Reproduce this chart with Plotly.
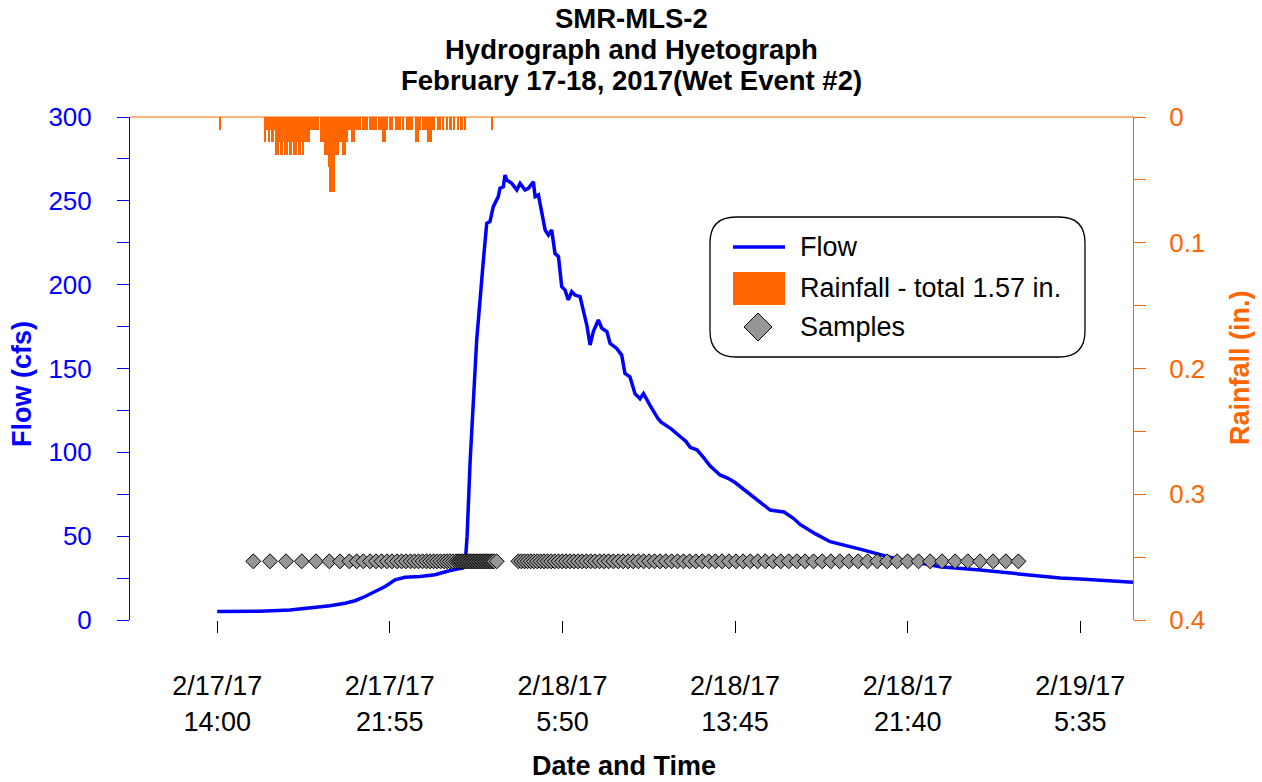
import plotly.graph_objects as go
import pandas as pd

# ---------------- data ----------------
start_time = "2017-02-17 10:00"
end_time = "2017-02-19 08:00"

# Flow: hours after 2017-02-17 10:00 and flow (cfs)
flow_hours = [4.00, 5.96, 7.34, 8.26, 9.17, 9.86, 10.32, 10.78, 11.24, 11.70, 12.16, 12.61,
              13.30, 13.99, 14.68, 15.27, 15.37, 15.46, 15.60, 15.90, 16.21, 16.36, 16.51,
              16.66, 16.89, 16.97, 17.12, 17.20, 17.28, 17.51, 17.74, 17.89, 18.12, 18.27,
              18.50, 18.58, 18.73, 18.88, 19.04, 19.19, 19.34, 19.49, 19.65, 19.80, 19.95,
              20.10, 20.26, 20.41, 20.64, 20.95, 21.10, 21.25, 21.48, 21.64, 21.87, 22.02,
              22.32, 22.55, 22.70, 22.93, 23.16, 23.39, 23.55, 23.85, 24.22, 24.36, 24.82,
              25.27, 25.50, 25.69, 26.00, 26.30, 26.60, 27.06, 27.43, 27.75, 28.10, 28.44,
              28.90, 29.36, 29.66, 29.99, 30.44, 30.73, 31.42, 32.11, 33.48, 34.40, 35.32,
              36.24, 37.15, 38.99, 39.90, 40.82, 41.74, 42.66, 43.57, 44.49, 45.41, 46.00]
flow_cfs = [5.0, 5.2, 6.0, 7.0, 8.5, 10.0, 11.5, 14.0, 17.0, 20.0, 24.0, 25.5,
            26.0, 27.0, 29.5, 31.0, 33.0, 50.0, 95.0, 167.0, 215.0, 236.6, 237.6,
            246.5, 252.5, 257.5, 258.4, 265.4, 262.4, 260.4, 256.5, 260.4, 256.5, 257.5,
            261.4, 252.5, 253.5, 244.5, 232.6, 229.6, 232.6, 218.7, 216.7, 198.8, 196.8,
            190.9, 195.8, 193.8, 192.9, 175.9, 164.0, 172.0, 178.9, 174.0, 172.0, 165.0,
            162.0, 158.0, 147.0, 145.0, 135.0, 132.0, 135.0, 128.0, 120.0, 118.0, 114.0,
            109.0, 106.5, 103.0, 101.5, 97.0, 92.0, 86.5, 84.5, 82.0, 78.5, 74.5,
            70.0, 65.6, 65.0, 64.4, 60.5, 57.0, 51.5, 46.7, 42.3, 38.8, 35.8,
            34.0, 31.8, 29.8, 28.6, 27.4, 26.2, 25.0, 24.5, 23.9, 23.3, 22.5]

# Rainfall: 5-minute totals (in.) starting 2017-02-17 16:10
rain_start = "2017-02-17 16:10"
rain_in = [0.02, 0.01, 0.02, 0.01, 0.02, 0.01,
           0.03, 0.03, 0.02, 0.03, 0.02, 0.03, 0.03, 0.02, 0.03, 0.02, 0.03, 0.03, 0.02, 0.03, 0.02, 0.03,
           0.02, 0.02, 0.02,
           0.01, 0.01, 0.01, 0.01, 0.01,
           0.00,
           0.02, 0.02, 0.03, 0.03, 0.04, 0.06, 0.06, 0.06, 0.03, 0.03, 0.02, 0.02, 0.03, 0.03, 0.02,
           0.01, 0.01, 0.02, 0.02,
           0.01, 0.01, 0.01, 0.00, 0.01, 0.01, 0.01, 0.00, 0.01, 0.01, 0.01, 0.01, 0.00, 0.01, 0.01,
           0.02, 0.02, 0.01, 0.00, 0.01, 0.01, 0.00, 0.01, 0.01, 0.01, 0.00, 0.01, 0.00, 0.01, 0.01,
           0.01, 0.01, 0.00, 0.02, 0.02, 0.01, 0.00, 0.01, 0.01, 0.01, 0.02, 0.02, 0.01, 0.01, 0.00,
           0.01, 0.01, 0.00, 0.01, 0.00, 0.01, 0.00, 0.01, 0.00, 0.01, 0.00, 0.01, 0.00, 0.01, 0.00,
           0.01]
rain_extra_times = ["2017-02-17 14:05", "2017-02-18 02:35"]
rain_extra_in = [0.01, 0.01]
rain_total_label = "Rainfall - total 1.57 in."

# Samples: hours after 2017-02-17 10:00 (plotted at 35 cfs)
sample_hours = [5.655, 6.421, 7.155, 7.875, 8.531, 9.141, 9.632, 10.059, 10.398, 10.701,
                11.008, 11.283, 11.536, 11.788, 12.017, 12.246, 12.453, 12.659, 12.866, 13.049,
                13.233, 13.416, 13.600, 13.760, 13.921, 14.081, 14.242, 14.402, 14.540, 14.677,
                14.815, 14.953, 15.044, 15.113, 15.182, 15.251, 15.320, 15.388, 15.457, 15.526,
                15.595, 15.664, 15.732, 15.801, 15.870, 15.939, 16.008, 16.076, 16.145, 16.214,
                16.283, 16.352, 16.420, 16.489, 16.558, 16.627, 16.695, 16.819,
                17.810, 17.948, 18.090, 18.232, 18.379, 18.526, 18.677, 18.833, 18.989, 19.150,
                19.315, 19.480, 19.649, 19.824, 19.998, 20.177, 20.360, 20.548, 20.736, 20.929,
                21.126, 21.328, 21.535, 21.741, 21.952, 22.172, 22.392, 22.617, 22.846, 23.076,
                23.314, 23.557, 23.805, 24.053, 24.310, 24.571, 24.837, 25.108, 25.383, 25.667,
                25.952, 26.245, 26.539, 26.846, 27.153, 27.470, 27.791, 28.117, 28.447, 28.786,
                29.135, 29.483, 29.846, 30.208, 30.584, 30.960, 31.350, 31.745, 32.143, 32.552,
                32.969, 33.396, 33.827, 34.272, 34.721, 35.180, 35.662, 36.166, 36.694, 37.244,
                37.840, 38.423, 38.987, 39.583, 40.166, 40.744]
sample_level_cfs = 35

tick_times = ["2017-02-17 14:00", "2017-02-17 21:55", "2017-02-18 05:50",
              "2017-02-18 13:45", "2017-02-18 21:40", "2017-02-19 05:35"]
tick_labels = ["2/17/17<br>14:00", "2/17/17<br>21:55", "2/18/17<br>5:50",
               "2/18/17<br>13:45", "2/18/17<br>21:40", "2/19/17<br>5:35"]

# ---------------- build ----------------
BLUE = "#0000FF"
ORANGE = "#FF6600"
FONT = "Arial, Liberation Sans, sans-serif"

t0 = pd.Timestamp(start_time)
flow_t = [t0 + pd.Timedelta(hours=h) for h in flow_hours]
sample_t = [t0 + pd.Timedelta(hours=h) for h in sample_hours]
rain_t = list(pd.date_range(rain_start, periods=len(rain_in), freq="5min") + pd.Timedelta(minutes=2.5))
rain_t += [pd.Timestamp(t) + pd.Timedelta(minutes=2.5) for t in rain_extra_times]
rain_v = rain_in + rain_extra_in

fig = go.Figure()
fig.add_trace(go.Bar(x=rain_t, y=rain_v, yaxis="y2", width=5 * 60 * 1000,
                     marker=dict(color=ORANGE, line=dict(width=0)), showlegend=False))
fig.add_trace(go.Scatter(x=flow_t, y=flow_cfs, mode="lines",
                         line=dict(color=BLUE, width=3.5), showlegend=False))
fig.add_trace(go.Scatter(x=sample_t, y=[sample_level_cfs] * len(sample_t), mode="markers",
                         marker=dict(symbol="diamond", size=11.5, color="#969696",
                                     line=dict(color="black", width=1)), showlegend=False))

W, H = 1262, 782
L, R, T, B = 130, 1133, 117, 620


def px(x):
    return (x - L) / (R - L)


def py(y):
    return (B - y) / (B - T)


fig.update_layout(
    width=W, height=H,
    margin=dict(l=L, r=W - R, t=T, b=H - B),
    paper_bgcolor="white", plot_bgcolor="white",
    font=dict(family=FONT, size=26, color="black"),
    bargap=0,
    xaxis=dict(type="date", range=[start_time, end_time], tickvals=tick_times, ticktext=tick_labels,
               ticks="outside", ticklen=12, tickcolor="black", tickwidth=1,
               showline=False, showgrid=False, zeroline=False,
               tickfont=dict(size=27, color="black"), ticklabelstandoff=30),
    yaxis=dict(range=[0, 300], tickvals=[0, 50, 100, 150, 200, 250, 300],
               ticks="outside", ticklen=12, tickcolor=BLUE, tickwidth=1,
               showline=True, linecolor=BLUE, linewidth=1,
               showgrid=False, zeroline=False,
               tickfont=dict(size=26, color=BLUE), ticklabelstandoff=20,
               minor=dict(ticks="outside", ticklen=12, tickcolor=BLUE, tickvals=[25, 75, 125, 175, 225, 275])),
    yaxis2=dict(range=[0.4, 0], overlaying="y", side="right",
                tickvals=[0, 0.1, 0.2, 0.3, 0.4], ticktext=["0", "0.1", "0.2", "0.3", "0.4"],
                ticks="outside", ticklen=12, tickcolor=ORANGE, tickwidth=1,
                showline=True, linecolor=ORANGE, linewidth=1,
                showgrid=False, zeroline=False,
                tickfont=dict(size=26, color=ORANGE), ticklabelstandoff=18,
                minor=dict(ticks="outside", ticklen=12, tickcolor=ORANGE, tickvals=[0.05, 0.15, 0.25, 0.35])),
)

# top border
fig.add_shape(type="line", xref="paper", yref="paper", x0=0, x1=1, y0=1, y1=1,
              line=dict(color=ORANGE, width=1))

# titles
for txt, yy in [("SMR-MLS-2", 18), ("Hydrograph and Hyetograph", 49),
                ("February 17-18, 2017(Wet Event #2)", 81)]:
    fig.add_annotation(text="<b>%s</b>" % txt, xref="paper", yref="paper", x=px(631), y=py(yy),
                       showarrow=False, xanchor="center", yanchor="middle",
                       font=dict(size=27.5, color="black", family=FONT))

fig.add_annotation(text="<b>Date and Time</b>", xref="paper", yref="paper", x=px(624), y=py(766),
                   showarrow=False, xanchor="center", yanchor="middle", font=dict(size=27, color="black"))
fig.add_annotation(text="<b>Flow (cfs)</b>", xref="paper", yref="paper", x=px(22), y=py(384),
                   showarrow=False, textangle=-90, xanchor="center", yanchor="middle",
                   font=dict(size=27, color=BLUE))
fig.add_annotation(text="<b>Rainfall (in.)</b>", xref="paper", yref="paper", x=px(1240), y=py(368),
                   showarrow=False, textangle=-90, xanchor="center", yanchor="middle",
                   font=dict(size=27, color=ORANGE))

# custom legend
bx0, bx1, by0, by1, rr = 710, 1085, 217, 357, 26
path = ("M {a},{b} L {c},{b} Q {d},{b} {d},{e} L {d},{f} Q {d},{g} {c},{g} "
        "L {a},{g} Q {h},{g} {h},{f} L {h},{e} Q {h},{b} {a},{b} Z").format(
    a=px(bx0 + rr), b=py(by0), c=px(bx1 - rr), d=px(bx1), e=py(by0 + rr), f=py(by1 - rr),
    g=py(by1), h=px(bx0))
fig.add_shape(type="path", xref="paper", yref="paper", path=path,
              line=dict(color="black", width=1.3), fillcolor="white", layer="above")
fig.add_shape(type="line", xref="paper", yref="paper", x0=px(733), x1=px(785), y0=py(247), y1=py(247),
              line=dict(color=BLUE, width=3.5), layer="above")
fig.add_shape(type="rect", xref="paper", yref="paper", x0=px(733), x1=px(785), y0=py(272), y1=py(305),
              fillcolor=ORANGE, line=dict(width=0), layer="above")
dpath = "M {},{} L {},{} L {},{} L {},{} Z".format(px(744), py(327), px(758), py(313),
                                                    px(772), py(327), px(758), py(341))
fig.add_shape(type="path", xref="paper", yref="paper", path=dpath, fillcolor="#969696",
              line=dict(color="black", width=1), layer="above")
for txt, yy in [("Flow", 247), (rain_total_label, 288), ("Samples", 327)]:
    fig.add_annotation(text=txt, xref="paper", yref="paper", x=px(798), y=py(yy), showarrow=False,
                       xanchor="left", yanchor="middle", font=dict(size=27, color="black"))

fig.write_html("out.html", config={"displayModeBar": False},
               post_script="document.body.style.margin='0px';document.body.style.overflow='hidden';")
